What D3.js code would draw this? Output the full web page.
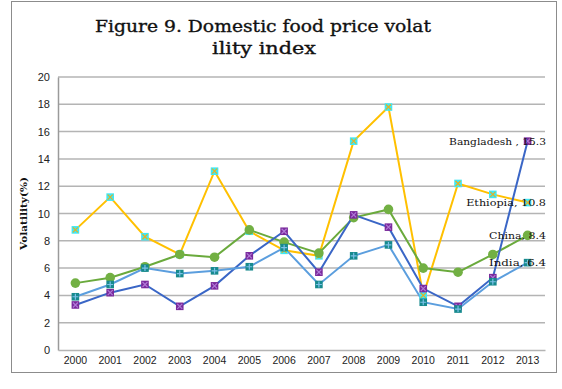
<!DOCTYPE html>
<html>
<head>
<meta charset="utf-8">
<script src="https://cdnjs.cloudflare.com/ajax/libs/d3/7.8.5/d3.min.js"></script>
<style>
  body { margin: 0; background: #fff; }
  svg { display: block; }
</style>
</head>
<body>
<div id="chart"></div>
<script>
// chart values
const years = ["2000","2001","2002","2003","2004","2005","2006","2007","2008","2009","2010","2011","2012","2013"];
const yTicks = [0, 2, 4, 6, 8, 10, 12, 14, 16, 18, 20];

const ethiopia   = [8.8, 11.2, 8.3, 7.0, 13.1, 8.7, 7.3, 6.9, 15.3, 17.8, 4.0, 12.2, 11.4, 10.8];
const bangladesh = [3.3, 4.2, 4.8, 3.2, 4.7, 6.9, 8.7, 5.7, 9.9, 9.0, 4.5, 3.2, 5.3, 15.3];
const china      = [4.9, 5.3, 6.1, 7.0, 6.8, 8.8, 7.9, 7.1, 9.7, 10.3, 6.0, 5.7, 7.0, 8.4];
const india      = [3.9, 4.8, 6.0, 5.6, 5.8, 6.1, 7.5, 4.8, 6.9, 7.7, 3.5, 3.0, 5.0, 6.4];

const series = [
  {name: "Bangladesh", values: bangladesh, line: "#3a66c6", fill: "#7a2a9c", mark: "#b07ad8", shape: "x"},
  {name: "Ethiopia",   values: ethiopia,   line: "#ffc000", fill: "#3fe8f4", mark: "#e8b020", shape: "x"},
  {name: "China",      values: china,      line: "#6aaa3c", fill: "#72b043", mark: "#72b043", shape: "circle"},
  {name: "India",      values: india,      line: "#5b9ede", fill: "#178a8e", mark: "#7cc0e8", shape: "plus"}
];
// draw order: Ethiopia at back
const drawOrder = ["Ethiopia", "China", "Bangladesh", "India"];

const W = 562, H = 389;
const margin = {top: 77, right: 17, bottom: 39, left: 58};
const width = W - margin.left - margin.right,
      height = H - margin.top - margin.bottom;

const serif = "DejaVu Serif, Liberation Serif, serif";

const svg = d3.select("#chart").append("svg")
    .attr("width", W)
    .attr("height", H);

// outer frame
svg.append("rect")
    .attr("x", 11.5).attr("y", 1.5)
    .attr("width", 545).attr("height", 371)
    .attr("fill", "none")
    .attr("stroke", "#8c8c8c")
    .attr("stroke-width", 1);

// title
const title = svg.append("text")
    .attr("text-anchor", "middle")
    .attr("font-family", serif)
    .attr("font-size", "17px")
    .attr("fill", "#111")
    .attr("stroke", "#111")
    .attr("stroke-width", 0.35);
title.append("tspan").attr("x", 263).attr("y", 32)
    .attr("textLength", 336).attr("lengthAdjust", "spacingAndGlyphs")
    .text("Figure 9. Domestic food price volat");
title.append("tspan").attr("x", 264).attr("y", 54)
    .attr("textLength", 104).attr("lengthAdjust", "spacingAndGlyphs")
    .text("ility index");

const g = svg.append("g")
    .attr("transform", "translate(" + margin.left + "," + margin.top + ")");

const x = d3.scaleBand().domain(years).range([0, width]);
const y = d3.scaleLinear().domain([0, 20]).range([height, 0]);
const cx = d => x(d) + x.bandwidth() / 2;

// gridlines
g.append("g")
  .selectAll("line")
  .data(yTicks.filter(t => t > 0))
  .enter().append("line")
    .attr("x1", 0).attr("x2", width)
    .attr("y1", d => y(d)).attr("y2", d => y(d))
    .attr("stroke", "#b4b4b4")
    .attr("stroke-width", 1.5);

// Y axis
const yAxis = g.append("g").call(d3.axisLeft(y).tickValues(yTicks).tickSize(0).tickPadding(8));
yAxis.select(".domain").attr("stroke", "#9a9a9a").attr("stroke-width", 1.5);
yAxis.selectAll("text")
    .attr("font-family", "Liberation Sans, Arial, sans-serif")
    .attr("font-size", "11px")
    .attr("fill", "#222");

// X axis
const xAxis = g.append("g")
    .attr("transform", "translate(0," + height + ")")
    .call(d3.axisBottom(x).tickSize(0).tickPadding(7));
xAxis.select(".domain").attr("stroke", "#b4b4b4").attr("stroke-width", 1.5);
xAxis.selectAll("text")
    .attr("font-family", "Liberation Sans, Arial, sans-serif")
    .attr("font-size", "10.5px")
    .attr("fill", "#222");

// Y axis title
svg.append("text")
    .attr("transform", "translate(27," + (margin.top + height / 2) + ") rotate(-90)")
    .attr("text-anchor", "middle")
    .attr("font-family", serif)
    .attr("font-weight", "bold")
    .attr("font-size", "9.5px")
    .attr("textLength", 73).attr("lengthAdjust", "spacingAndGlyphs")
    .attr("fill", "#111")
    .text("Volatility(%)");

const line = d3.line()
    .x((d, i) => cx(years[i]))
    .y(d => y(d));

drawOrder.forEach(name => {
  const s = series.find(t => t.name === name);
  g.append("path")
    .datum(s.values)
    .attr("fill", "none")
    .attr("stroke", s.line)
    .attr("stroke-width", 2)
    .attr("d", line);
});

drawOrder.forEach(name => {
  const s = series.find(t => t.name === name);
  const m = g.append("g").selectAll("g")
    .data(s.values)
    .enter().append("g")
      .attr("transform", (d, i) => "translate(" + cx(years[i]) + "," + y(d) + ")");
  if (s.shape === "circle") {
    m.append("circle").attr("r", 4.8).attr("fill", s.fill);
  } else {
    m.append("rect")
      .attr("x", -3.8).attr("y", -3.8).attr("width", 7.6).attr("height", 7.6)
      .attr("fill", s.fill);
    if (s.shape === "x") {
      m.append("path").attr("d", "M-2.5,-2.5L2.5,2.5M2.5,-2.5L-2.5,2.5")
        .attr("stroke", s.mark).attr("stroke-width", 1.2);
    } else {
      m.append("path").attr("d", "M0,-3L0,3M-3,0L3,0")
        .attr("stroke", s.mark).attr("stroke-width", 1.2);
    }
  }
});

// data labels at the last year
const last = years.length - 1;
series.forEach(s => {
  const sep = s.name === "Bangladesh" ? " , " : ", ";
  const txt = s.name + sep + s.values[last];
  g.append("text")
    .attr("x", width + 1)
    .attr("y", y(s.values[last]))
    .attr("dy", "0.35em")
    .attr("text-anchor", "end")
    .attr("font-family", serif)
    .attr("font-size", "10px")
    .attr("textLength", txt.length * 5.7).attr("lengthAdjust", "spacingAndGlyphs")
    .attr("fill", "#111")
    .text(txt);
});
</script>
</body>
</html>
